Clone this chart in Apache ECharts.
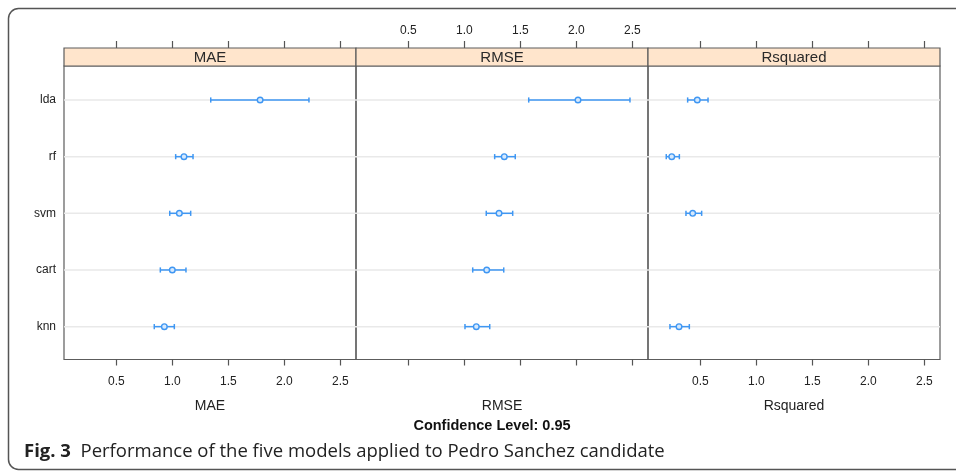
<!DOCTYPE html>
<html><head><meta charset="utf-8">
<script src="https://cdn.jsdelivr.net/npm/echarts@6/dist/echarts.min.js"></script>
<style>html,body{margin:0;padding:0;background:#fff}#c{width:956px;height:472px}</style>
</head><body><div id="c"></div>
<script>
// ---- data ----
const models = ['lda', 'rf', 'svm', 'cart', 'knn'];
const metrics = ['MAE', 'RMSE', 'Rsquared'];
const xTicks = [0.5, 1.0, 1.5, 2.0, 2.5];
const maeLow  = [1.343, 1.030, 0.977, 0.893, 0.839];
const maeMid  = [1.784, 1.104, 1.063, 1.000, 0.929];
const maeHigh = [2.220, 1.185, 1.164, 1.122, 1.018];
const rmseLow  = [1.575, 1.271, 1.196, 1.075, 1.006];
const rmseMid  = [2.015, 1.357, 1.310, 1.200, 1.107];
const rmseHigh = [2.479, 1.455, 1.432, 1.352, 1.227];
const rsqLow  = [0.387, 0.196, 0.372, null, 0.229];
const rsqMid  = [0.473, 0.245, 0.432, null, 0.310];
const rsqHigh = [0.569, 0.313, 0.512, null, 0.402];
const subTitle = 'Confidence Level: 0.95';
const captionBold = 'Fig. 3';
const captionText = 'Performance of the five models applied to Pedro Sanchez candidate';

// ---- layout / style ----
const FONT = 'Liberation Sans, Arial, sans-serif';
const BLUE = '#3f97f3';
const panelLeft = [64, 356, 648];
const panelW = 292;
const panelTop = 66;
const panelH = 293.5;
const stripH = 18;
const xMin = 0.033, xMax = 2.64;
const yMin = 0.42, yMax = 5.6;

const lows = [maeLow, rmseLow, rsqLow];
const mids = [maeMid, rmseMid, rsqMid];
const highs = [maeHigh, rmseHigh, rsqHigh];
const yVal = i => models.length - i;
const yTicks = models.map((m, i) => yVal(i));

const grids = [], xAxes = [], yAxes = [], series = [], graphics = [];

metrics.forEach((name, p) => {
  grids.push({left: panelLeft[p], top: panelTop, width: panelW, height: panelH,
    show: true, borderColor: '#5c5c5c', borderWidth: 1.2, backgroundColor: 'transparent'});
  // bottom axis
  xAxes.push({gridIndex: p, type: 'value', min: xMin, max: xMax, position: 'bottom',
    axisLine: {show: false}, splitLine: {show: false},
    axisTick: {show: true, length: 6, customValues: xTicks, lineStyle: {color: '#555', width: 1.2}},
    axisLabel: {show: p !== 1, customValues: xTicks, formatter: v => v.toFixed(1),
      margin: 16, fontSize: 12, color: '#222', fontFamily: FONT},
    name: name, nameLocation: 'middle', nameGap: 40,
    nameTextStyle: {fontSize: 14, color: '#222', fontFamily: FONT}});
  // top axis
  xAxes.push({gridIndex: p, type: 'value', min: xMin, max: xMax, position: 'top', offset: stripH,
    axisLine: {show: false}, splitLine: {show: false},
    axisTick: {show: true, length: 7, customValues: xTicks, lineStyle: {color: '#555', width: 1.2}},
    axisLabel: {show: p === 1, customValues: xTicks, formatter: v => v.toFixed(1),
      margin: 11, fontSize: 12, color: '#222', fontFamily: FONT}});
  yAxes.push({gridIndex: p, type: 'value', min: yMin, max: yMax,
    axisLine: {show: false}, axisTick: {show: false}, splitLine: {show: false},
    axisLabel: {show: p === 0, customValues: yTicks, margin: 8, fontSize: 12, color: '#222', fontFamily: FONT,
      formatter: v => models[models.length - Math.round(v)]}});

  // reference lines
  series.push({type: 'custom', xAxisIndex: p * 2, yAxisIndex: p, z: 1, silent: true,
    data: models.map((m, i) => [xMin, yVal(i)]),
    encode: {x: 0, y: 1},
    renderItem: (params, api) => {
      const cs = params.coordSys;
      const y = api.coord([api.value(0), api.value(1)])[1];
      return {type: 'line', shape: {x1: cs.x, y1: y, x2: cs.x + cs.width, y2: y},
        style: {stroke: '#e9e9e9', lineWidth: 1.5}};
    }});

  // intervals
  const data = [];
  models.forEach((m, i) => {
    if (mids[p][i] != null) data.push([lows[p][i], mids[p][i], highs[p][i], yVal(i)]);
  });
  series.push({type: 'custom', xAxisIndex: p * 2, yAxisIndex: p, z: 3, silent: true,
    data: data, encode: {x: [0, 1, 2], y: 3},
    renderItem: (params, api) => {
      const yv = api.value(3);
      const pl = api.coord([api.value(0), yv]);
      const pm = api.coord([api.value(1), yv]);
      const ph = api.coord([api.value(2), yv]);
      const y = pm[1];
      const st = {stroke: BLUE, lineWidth: 1.5};
      return {type: 'group', children: [
        {type: 'line', shape: {x1: pl[0], y1: y, x2: ph[0], y2: y}, style: st},
        {type: 'line', shape: {x1: pl[0], y1: y - 2.6, x2: pl[0], y2: y + 2.6}, style: st},
        {type: 'line', shape: {x1: ph[0], y1: y - 2.6, x2: ph[0], y2: y + 2.6}, style: st},
        {type: 'circle', shape: {cx: pm[0], cy: y, r: 2.8}, style: {stroke: BLUE, lineWidth: 1.4, fill: '#d6e9fd'}}
      ]};
    }});

  // strip
  graphics.push({type: 'rect', shape: {x: panelLeft[p], y: panelTop - stripH, width: panelW, height: stripH},
    style: {fill: '#ffe5cc', stroke: '#5c5c5c', lineWidth: 1.2}, z: 10});
  graphics.push({type: 'text', x: panelLeft[p] + panelW / 2, y: panelTop - stripH / 2 + 0.5, z: 11,
    style: {text: name, fontSize: 15, fontFamily: FONT, fill: '#2a2a2a', align: 'center', verticalAlign: 'middle'}});
});

graphics.push({type: 'rect', shape: {x: 8.5, y: 8.5, width: 970, height: 461, r: 10},
  style: {fill: 'none', stroke: '#555', lineWidth: 1.5}, z: 0});
graphics.push({type: 'text', x: 492, y: 426, z: 11,
  style: {text: subTitle, fontSize: 14.5, fontWeight: 'bold', fontFamily: FONT, fill: '#111',
    align: 'center', verticalAlign: 'middle'}});
graphics.push({type: 'text', x: 24, y: 452, z: 11,
  style: {text: '{b|' + captionBold + '}  ' + captionText, fontSize: 18.5, fontFamily: 'Open Sans, Noto Sans, sans-serif',
    fill: '#222', align: 'left', verticalAlign: 'middle',
    rich: {b: {fontWeight: 'bold', fontSize: 18.5, fontFamily: 'Open Sans, Noto Sans, sans-serif', fill: '#222'}}}});

const chart = echarts.init(document.getElementById('c'), null, {renderer: 'canvas'});
chart.setOption({
  animation: false,
  backgroundColor: '#fff',
  textStyle: {fontFamily: FONT},
  grid: grids, xAxis: xAxes, yAxis: yAxes, series: series, graphic: graphics
});
</script></body></html>
